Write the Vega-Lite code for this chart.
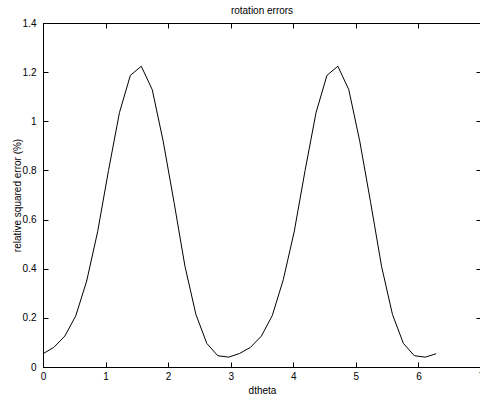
{
  "$schema": "https://vega.github.io/schema/vega-lite/v6.json",
  "autosize": {"type": "none"},
  "padding": {"left": 43, "top": 23, "right": 0, "bottom": 33},
  "width": 438,
  "height": 344,
  "title": {"text": "rotation errors", "fontSize": 10, "font": "Liberation Sans", "fontWeight": "normal", "color": "black", "offset": 2},
  "data": {"values": [
    {"dtheta": 0.0, "err": 0.054},
    {"dtheta": 0.1745, "err": 0.08},
    {"dtheta": 0.3491, "err": 0.126},
    {"dtheta": 0.5236, "err": 0.208},
    {"dtheta": 0.6981, "err": 0.35},
    {"dtheta": 0.8727, "err": 0.55},
    {"dtheta": 1.0472, "err": 0.8},
    {"dtheta": 1.2217, "err": 1.035},
    {"dtheta": 1.3963, "err": 1.187},
    {"dtheta": 1.5708, "err": 1.224},
    {"dtheta": 1.7453, "err": 1.129},
    {"dtheta": 1.9199, "err": 0.92},
    {"dtheta": 2.0944, "err": 0.67},
    {"dtheta": 2.2689, "err": 0.41},
    {"dtheta": 2.4435, "err": 0.214},
    {"dtheta": 2.618, "err": 0.096},
    {"dtheta": 2.7925, "err": 0.046},
    {"dtheta": 2.9671, "err": 0.04},
    {"dtheta": 3.1416, "err": 0.055},
    {"dtheta": 3.3161, "err": 0.08},
    {"dtheta": 3.4907, "err": 0.126},
    {"dtheta": 3.6652, "err": 0.21},
    {"dtheta": 3.8397, "err": 0.355},
    {"dtheta": 4.0143, "err": 0.55},
    {"dtheta": 4.1888, "err": 0.8},
    {"dtheta": 4.3633, "err": 1.035},
    {"dtheta": 4.5379, "err": 1.187},
    {"dtheta": 4.7124, "err": 1.224},
    {"dtheta": 4.8869, "err": 1.129},
    {"dtheta": 5.0615, "err": 0.92},
    {"dtheta": 5.236, "err": 0.67},
    {"dtheta": 5.4105, "err": 0.41},
    {"dtheta": 5.5851, "err": 0.214},
    {"dtheta": 5.7596, "err": 0.096},
    {"dtheta": 5.9341, "err": 0.046},
    {"dtheta": 6.1087, "err": 0.04},
    {"dtheta": 6.2832, "err": 0.054}
  ]},
  "layer": [
    {
      "mark": {"type": "line", "color": "black", "strokeWidth": 1},
      "encoding": {
        "x": {"field": "dtheta", "type": "quantitative", "scale": {"domain": [0, 7], "nice": false, "zero": false},
              "axis": {"orient": "bottom", "values": [0,1,2,3,4,5,6,7], "format": "d", "title": "dtheta", "labelPadding": 9, "titlePadding": 4}},
        "y": {"field": "err", "type": "quantitative", "scale": {"domain": [0, 1.4], "nice": false},
              "axis": {"orient": "left", "values": [0,0.2,0.4,0.6,0.8,1,1.2,1.4], "format": ".1~f", "title": "relative squared error (%)", "labelPadding": 12, "titlePadding": 0}}
      }
    },
    {
      "mark": {"type": "line", "color": "black", "opacity": 0},
      "encoding": {
        "x": {"field": "dtheta", "type": "quantitative", "axis": {"orient": "top", "values": [0,1,2,3,4,5,6,7], "labels": false, "title": null}},
        "y": {"field": "err", "type": "quantitative", "axis": {"orient": "right", "values": [0,0.2,0.4,0.6,0.8,1,1.2,1.4], "labels": false, "title": null}}
      }
    }
  ],
  "resolve": {"axis": {"x": "independent", "y": "independent"}},
  "config": {
    "view": {"stroke": "black", "strokeWidth": 1},
    "axis": {
      "grid": false,
      "domainColor": "black",
      "domainWidth": 1,
      "tickColor": "black",
      "tickSize": -5,
      "tickWidth": 1,
      "labelColor": "black",
      "labelFont": "Liberation Sans",
      "labelFontSize": 10,
      "titleFont": "Liberation Sans",
      "titleFontSize": 10,
      "titleFontWeight": "normal",
      "titleColor": "black",
      "labelFlush": false
    }
  }
}
